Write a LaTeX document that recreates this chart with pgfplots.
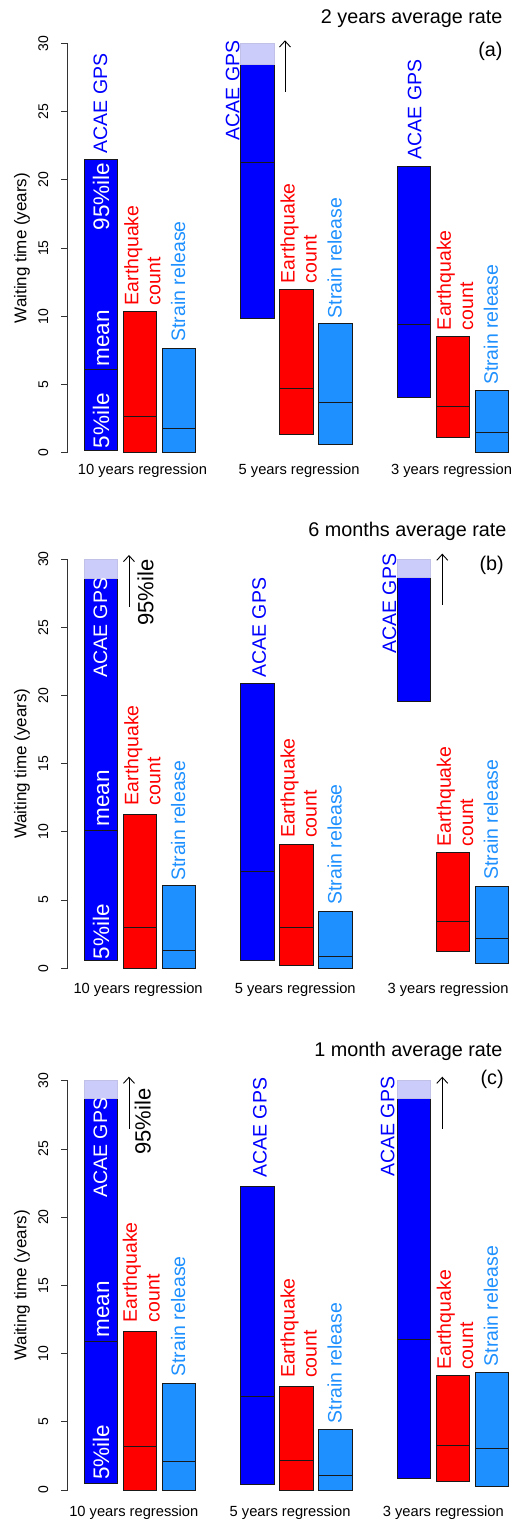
\documentclass[border=0pt]{standalone}
\usepackage{fontspec}
\setmainfont{Liberation Sans}
\usepackage{pgfplots}
\pgfplotsset{compat=1.18}
\usetikzlibrary{arrows.meta}

\definecolor{rblue}{RGB}{0,0,255}
\definecolor{rred}{RGB}{255,0,0}
\definecolor{dodger}{RGB}{30,144,255}
\definecolor{lightpart}{RGB}{204,204,250}
\definecolor{edgec}{RGB}{25,25,25}

\newcommand\fs[1]{\fontsize{#1}{#1}\selectfont}

% full bar: colour, x left, x right, low, mean, high
\newcommand\rbar[6]{%
  \addplot[fill=#1, draw=edgec, line width=0.9pt] coordinates {(#2,#4) (#3,#4) (#3,#6) (#2,#6)} -- cycle;
  \addplot[draw=edgec, line width=0.9pt] coordinates {(#2,#5) (#3,#5)};
}
% blue bar that runs past the top: x left, x right, low, cut
\newcommand\cbar[4]{%
  \addplot[fill=rblue, draw=edgec, line width=0.9pt] coordinates {(#1,#4) (#1,#3) (#2,#3) (#2,#4)};
  \addplot[fill=lightpart, draw=lightpart!85!gray, line width=0.6pt] coordinates {(#1,#4) (#2,#4) (#2,30) (#1,30)} -- cycle;
}
\newcommand\mline[3]{%
  \addplot[draw=edgec, line width=0.9pt] coordinates {(#1,#3) (#2,#3)};
}
\newcommand\uparr[3]{%
  \addplot[draw=black, line width=0.9pt, -{Straight Barb[length=6pt,width=11pt]}] coordinates {(#1,#2) (#1,#3)};
}
% rotated label: options, x (baseline), y (start), text
\newcommand\lab[4]{%
  \node[rotate=90, anchor=base west, inner sep=0pt, #1] at (axis cs:#2,#3) {#4};
}
% two-line red label: x of first baseline, x of second baseline, y start
\newcommand\eq[3]{%
  \lab{text=rred, font=\fs{19.5}}{#1}{#3}{Earthquake}%
  \lab{text=rred, font=\fs{19.5}}{#2}{#3}{count}%
}

\pgfplotsset{panel/.style={
  scale only axis, width=445.2pt, height=409.2pt,
  xmin=-0.852, xmax=10.54, ymin=0, ymax=30,
  axis x line=none, axis y line*=left,
  ytick={0,5,10,15,20,25,30},
  tick align=outside, major tick length=6.7pt,
  axis line style={draw=black!80, line width=0.8pt},
  ytick style={draw=black!80, line width=0.8pt},
  yticklabel style={rotate=90, anchor=south, inner sep=0pt, font=\fs{14}},
  yticklabel shift=12.5pt,
  /pgf/number format/assume math mode=true,
  ylabel={Waiting time (years)},
  every axis y label/.style={at={(axis description cs:-0.1027,0.5)}, rotate=90, anchor=center, font=\fs{17}},
  clip=false,
}}

\begin{document}
\begin{tikzpicture}
\useasboundingbox (0,0) rectangle (513pt,1524pt);

% ---------------- (a) ----------------
\begin{axis}[panel, at={(67.7pt,1071.3pt)}, anchor=south west]
\rbar{rblue}{-0.426}{0.426}{0.2}{6.1}{21.5}
\rbar{rred}{0.574}{1.426}{0}{2.67}{10.33}
\rbar{dodger}{1.574}{2.426}{0}{1.76}{7.65}
\cbar{3.574}{4.426}{9.85}{28.45}
\mline{3.574}{4.426}{21.3}
\rbar{rred}{4.574}{5.426}{1.37}{4.72}{11.97}
\rbar{dodger}{5.574}{6.426}{0.64}{3.66}{9.5}
\rbar{rblue}{7.574}{8.426}{4.03}{9.43}{21.0}
\rbar{rred}{8.574}{9.426}{1.13}{3.42}{8.55}
\rbar{dodger}{9.574}{10.426}{0}{1.49}{4.54}
\uparr{4.708}{26.45}{30.23}
\lab{text=rblue, font=\fs{19.5}}{0.16}{21.93}{ACAE GPS}
\lab{text=white, font=\fs{22.5}}{0.21}{16.3}{95\%ile}
\lab{text=white, font=\fs{22.5}}{0.21}{6.3}{mean}
\lab{text=white, font=\fs{22.5}}{0.21}{0.32}{5\%ile}
\eq{0.955}{1.52}{10.8}
\lab{text=dodger, font=\fs{19.5}}{2.155}{8.13}{Strain release}
\lab{text=rblue, font=\fs{19.5}}{3.54}{22.9}{ACAE GPS}
\eq{4.955}{5.52}{12.42}
\lab{text=dodger, font=\fs{19.5}}{6.155}{9.85}{Strain release}
\lab{text=rblue, font=\fs{19.5}}{8.2}{21.5}{ACAE GPS}
\eq{8.955}{9.52}{8.98}
\lab{text=dodger, font=\fs{19.5}}{10.155}{4.95}{Strain release}
\node[font=\fs{14.7}, inner sep=0pt] at (axis cs:1.06,-1.30) {10 years regression};
\node[font=\fs{14.7}, inner sep=0pt] at (axis cs:5.07,-1.30) {5 years regression};
\node[font=\fs{14.7}, inner sep=0pt] at (axis cs:8.97,-1.30) {3 years regression};
\node[font=\fs{19.8}, anchor=east, inner sep=0pt] at (axis cs:10.28,31.85) {2 years average rate};
\node[font=\fs{19.8}, anchor=east, inner sep=0pt] at (axis cs:10.28,29.45) {(a)};
\end{axis}

% ---------------- (b) ----------------
\begin{axis}[panel, at={(67.7pt,555.7pt)}, anchor=south west]
\cbar{-0.426}{0.426}{0.56}{28.6}
\mline{-0.426}{0.426}{10.07}
\rbar{rred}{0.574}{1.426}{0}{3.03}{11.27}
\rbar{dodger}{1.574}{2.426}{0}{1.32}{6.04}
\rbar{rblue}{3.574}{4.426}{0.61}{7.09}{20.9}
\rbar{rred}{4.574}{5.426}{0.19}{3.03}{9.1}
\rbar{dodger}{5.574}{6.426}{0}{0.9}{4.18}
\cbar{7.574}{8.426}{19.59}{28.66}
\rbar{rred}{8.574}{9.426}{1.2}{3.47}{8.48}
\rbar{dodger}{9.574}{10.426}{0.37}{2.17}{5.99}
\uparr{0.716}{26.5}{30.3}
\uparr{8.733}{26.65}{30.4}
\lab{text=white, font=\fs{19.5}}{0.155}{21.3}{ACAE GPS}
\lab{text=white, font=\fs{22.5}}{0.21}{10.37}{mean}
\lab{text=white, font=\fs{22.5}}{0.21}{0.66}{5\%ile}
\lab{text=black, font=\fs{22}}{1.34}{25.1}{95\%ile}
\eq{0.955}{1.52}{11.95}
\lab{text=dodger, font=\fs{19.5}}{2.155}{6.4}{Strain release}
\lab{text=rblue, font=\fs{19.5}}{4.22}{21.3}{ACAE GPS}
\eq{4.955}{5.52}{9.54}
\lab{text=dodger, font=\fs{19.5}}{6.155}{4.65}{Strain release}
\lab{text=rblue, font=\fs{19.5}}{7.55}{23.06}{ACAE GPS}
\eq{8.955}{9.52}{8.92}
\lab{text=dodger, font=\fs{19.5}}{10.155}{6.48}{Strain release}
\node[font=\fs{14.7}, inner sep=0pt] at (axis cs:0.95,-1.59) {10 years regression};
\node[font=\fs{14.7}, inner sep=0pt] at (axis cs:4.97,-1.59) {5 years regression};
\node[font=\fs{14.7}, inner sep=0pt] at (axis cs:8.88,-1.59) {3 years regression};
\node[font=\fs{19.8}, anchor=east, inner sep=0pt] at (axis cs:10.38,32.03) {6 months average rate};
\node[font=\fs{19.8}, anchor=east, inner sep=0pt] at (axis cs:10.31,29.52) {(b)};
\end{axis}

% ---------------- (c) ----------------
\begin{axis}[panel, at={(67.7pt,34pt)}, anchor=south west]
\cbar{-0.426}{0.426}{0.46}{28.74}
\mline{-0.426}{0.426}{10.88}
\rbar{rred}{0.574}{1.426}{0}{3.2}{11.64}
\rbar{dodger}{1.574}{2.426}{0}{2.1}{7.83}
\rbar{rblue}{3.574}{4.426}{0.42}{6.87}{22.25}
\rbar{rred}{4.574}{5.426}{0}{2.2}{7.61}
\rbar{dodger}{5.574}{6.426}{0}{1.05}{4.45}
\cbar{7.574}{8.426}{0.86}{28.74}
\mline{7.574}{8.426}{11.05}
\rbar{rred}{8.574}{9.426}{0.66}{3.28}{8.38}
\rbar{dodger}{9.574}{10.426}{0.24}{3.03}{8.63}
\uparr{0.716}{26.5}{30.3}
\uparr{8.733}{26.5}{30.3}
\lab{text=white, font=\fs{19.5}}{0.155}{21.42}{ACAE GPS}
\lab{text=white, font=\fs{22.5}}{0.21}{11.15}{mean}
\lab{text=white, font=\fs{22.5}}{0.21}{0.73}{5\%ile}
\lab{text=black, font=\fs{22}}{1.27}{24.58}{95\%ile}
\eq{0.92}{1.5}{12.3}
\lab{text=dodger, font=\fs{19.5}}{2.155}{8.31}{Strain release}
\lab{text=rblue, font=\fs{19.5}}{4.24}{22.89}{ACAE GPS}
\eq{4.955}{5.52}{8.2}
\lab{text=dodger, font=\fs{19.5}}{6.155}{4.89}{Strain release}
\lab{text=rblue, font=\fs{19.5}}{7.51}{22.96}{ACAE GPS}
\eq{8.955}{9.52}{8.8}
\lab{text=dodger, font=\fs{19.5}}{10.155}{9.05}{Strain release}
\node[font=\fs{14.7}, inner sep=0pt] at (axis cs:0.84,-1.69) {10 years regression};
\node[font=\fs{14.7}, inner sep=0pt] at (axis cs:4.84,-1.69) {5 years regression};
\node[font=\fs{14.7}, inner sep=0pt] at (axis cs:8.76,-1.69) {3 years regression};
\node[font=\fs{19.8}, anchor=east, inner sep=0pt] at (axis cs:10.28,32.16) {1 month average rate};
\node[font=\fs{19.8}, anchor=east, inner sep=0pt] at (axis cs:10.31,30.08) {(c)};
\end{axis}
\end{tikzpicture}
\end{document}
